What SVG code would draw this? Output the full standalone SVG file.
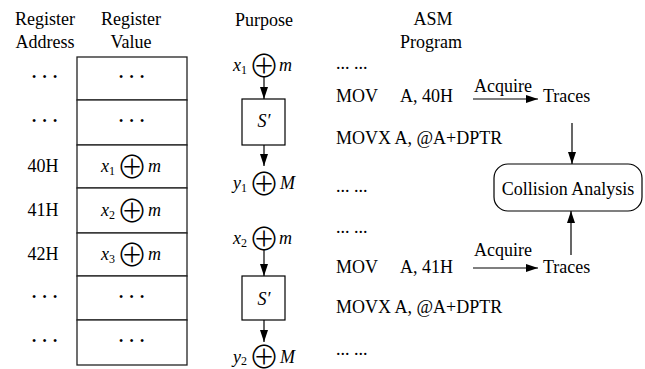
<svg xmlns="http://www.w3.org/2000/svg" width="645" height="369" viewBox="0 0 645 369" font-family="'Liberation Serif', Tinos, 'Times New Roman', 'DejaVu Serif', serif">
<defs>
<marker id="ah" markerUnits="userSpaceOnUse" markerWidth="13" markerHeight="9" refX="12" refY="4" orient="auto">
<path d="M0,0 L12,4 L0,8 z" fill="#000"/>
</marker>
<style>
text{font-family:'Liberation Serif',Tinos,'Times New Roman','DejaVu Serif',serif;font-size:18px;fill:#000}
.c{text-anchor:middle}
.it{font-style:italic}
.sub{font-size:12px;font-style:normal}
.op{font-family:'Noto Sans CJK JP','Noto Sans CJK SC','DejaVu Sans',sans-serif;font-size:31px;font-style:normal;font-weight:300}
.dots{font-size:12px;letter-spacing:6.3px}
.ln{stroke:#000;stroke-width:1.2;fill:none}
.cell{stroke:#222;stroke-width:1.3;fill:#fff}
.box{stroke:#000;stroke-width:1.2;fill:#fff}
</style>
</defs>

<g id="headers">
<text class="c" x="45" y="25">Register</text>
<text class="c" x="45" y="48">Address</text>
<text class="c" x="131" y="25">Register</text>
<text class="c" x="131" y="48">Value</text>
<text class="c" x="264" y="26">Purpose</text>
<text class="c" x="433" y="25">ASM</text>
<text class="c" x="431" y="48">Program</text>
</g>

<g id="register-table">
<rect class="cell" x="77" y="57" width="110" height="43"/>
<rect class="cell" x="77" y="100" width="110" height="45"/>
<rect class="cell" x="77" y="145" width="110" height="43"/>
<rect class="cell" x="77" y="188" width="110" height="45"/>
<rect class="cell" x="77" y="233" width="110" height="43"/>
<rect class="cell" x="77" y="276" width="110" height="44"/>
<rect class="cell" x="77" y="320" width="110" height="45"/>
<text class="dots" x="32" y="81">•••</text>
<text class="dots" x="119" y="81">•••</text>
<text class="dots" x="32" y="125">•••</text>
<text class="dots" x="119" y="125">•••</text>
<text class="c" x="43" y="172">40H</text>
<text class="c" x="43" y="216">41H</text>
<text class="c" x="43" y="260">42H</text>
<text class="dots" x="32" y="301">•••</text>
<text class="dots" x="119" y="301">•••</text>
<text class="dots" x="32" y="345">•••</text>
<text class="dots" x="119" y="345">•••</text>
<text y="172"><tspan class="it" x="101">x</tspan><tspan class="sub" dy="3">1</tspan><tspan class="op" x="116.5" dy="3">⊕</tspan><tspan class="it" x="148" dy="-6">m</tspan></text>
<text y="216"><tspan class="it" x="101">x</tspan><tspan class="sub" dy="3">2</tspan><tspan class="op" x="116.5" dy="3">⊕</tspan><tspan class="it" x="148" dy="-6">m</tspan></text>
<text y="260"><tspan class="it" x="101">x</tspan><tspan class="sub" dy="3">3</tspan><tspan class="op" x="116.5" dy="3">⊕</tspan><tspan class="it" x="148" dy="-6">m</tspan></text>
</g>

<g id="purpose-1">
<text y="71"><tspan class="it" x="233">x</tspan><tspan class="sub" dy="3">1</tspan><tspan class="op" x="248.5" dy="3">⊕</tspan><tspan class="it" x="279" dy="-6">m</tspan></text>
<rect class="box" x="242" y="99" width="43" height="46"/>
<text class="c it" x="264" y="127">S′</text>
<text y="189"><tspan class="it" x="233">y</tspan><tspan class="sub" dy="3">1</tspan><tspan class="op" x="248.5" dy="3">⊕</tspan><tspan class="it" x="280" dy="-6">M</tspan></text>
</g>

<g id="purpose-2">
<text y="244"><tspan class="it" x="233">x</tspan><tspan class="sub" dy="3">2</tspan><tspan class="op" x="248.5" dy="3">⊕</tspan><tspan class="it" x="279" dy="-6">m</tspan></text>
<rect class="box" x="242" y="276" width="43" height="44"/>
<text class="c it" x="264" y="305">S′</text>
<text y="363"><tspan class="it" x="233">y</tspan><tspan class="sub" dy="2">2</tspan><tspan class="op" x="248.5" dy="3">⊕</tspan><tspan class="it" x="280" dy="-5">M</tspan></text>
</g>

<g id="asm-program">
<text x="336" y="69">... ...</text>
<text x="336" y="102">MOV</text>
<text x="400" y="102">A, 40H</text>
<text x="336" y="144">MOVX A, @A+DPTR</text>
<text x="336" y="192">... ...</text>
<text x="336" y="233">... ...</text>
<text x="336" y="273">MOV</text>
<text x="400" y="273">A, 41H</text>
<text x="336" y="313">MOVX A, @A+DPTR</text>
<text x="336" y="355">... ...</text>
</g>

<g id="acquire-1">
<text class="c" x="503" y="92">Acquire</text>
<text x="543" y="102">Traces</text>
</g>

<g id="acquire-2">
<text class="c" x="503" y="256">Acquire</text>
<text x="543" y="273">Traces</text>
</g>

<g id="collision-analysis">
<rect class="box" x="494" y="164" width="148" height="47" rx="14" ry="14"/>
<text class="c" x="568" y="195">Collision Analysis</text>
</g>

<g id="connectors">
<line class="ln" x1="264" y1="77" x2="264" y2="99" marker-end="url(#ah)"/>
<line class="ln" x1="264" y1="145" x2="264" y2="166" marker-end="url(#ah)"/>
<line class="ln" x1="264" y1="250" x2="264" y2="276" marker-end="url(#ah)"/>
<line class="ln" x1="264" y1="320" x2="264" y2="342" marker-end="url(#ah)"/>
<line class="ln" x1="473" y1="99" x2="538" y2="99" marker-end="url(#ah)"/>
<line class="ln" x1="473" y1="268" x2="538" y2="268" marker-end="url(#ah)"/>
<line class="ln" x1="572" y1="123" x2="572" y2="164" marker-end="url(#ah)"/>
<line class="ln" x1="571" y1="255" x2="571" y2="211" marker-end="url(#ah)"/>
</g>
</svg>
